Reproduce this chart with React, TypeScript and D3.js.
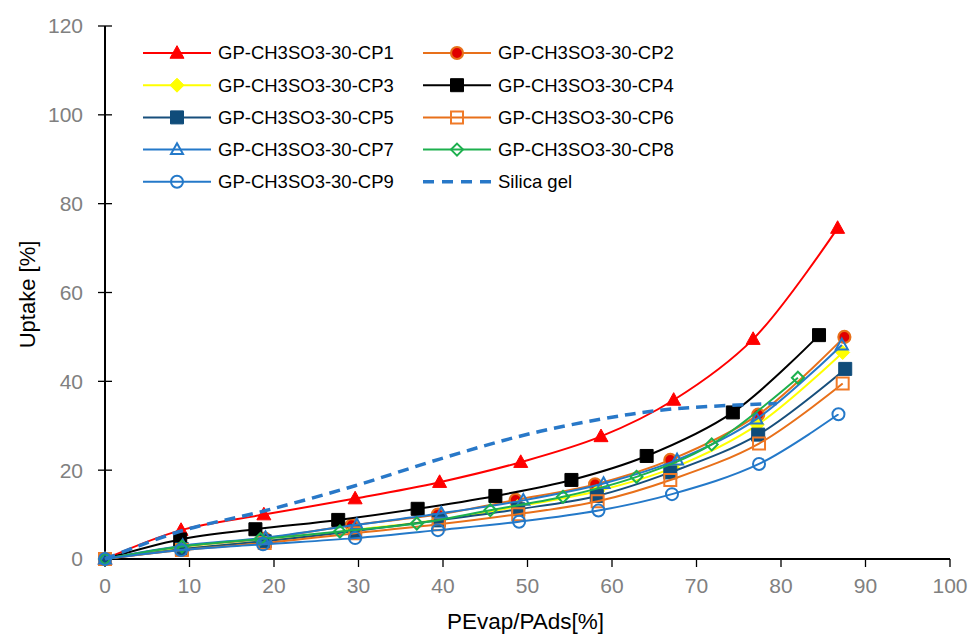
import React from "react";
import * as d3 from "d3";

const xTicks = [0, 10, 20, 30, 40, 50, 60, 70, 80, 90, 100];
const yTicks = [0, 20, 40, 60, 80, 100, 120];

const cp1X = [0, 9, 18.8, 29.6, 39.6, 49.2, 58.7, 67.3, 76.7, 86.7];
const cp1Y = [0, 6.5, 10.0, 13.6, 17.3, 21.8, 27.6, 35.8, 49.5, 74.5];
const cp2X = [0, 9.1, 18.9, 29.2, 39.4, 48.6, 58.0, 66.9, 77.3, 87.5];
const cp2Y = [0, 2.8, 4.6, 7.6, 10.0, 13.3, 16.8, 22.3, 32.5, 50.0];
const cp3X = [0, 9.1, 18.9, 29.4, 39.4, 48.8, 58.3, 67.2, 77.2, 87.3];
const cp3Y = [0, 2.3, 4.0, 6.5, 8.8, 11.8, 15.3, 20.5, 30.2, 46.5];
const cp4X = [0, 8.9, 17.8, 27.6, 37.0, 46.2, 55.2, 64.1, 74.3, 84.5];
const cp4Y = [0, 4.4, 6.7, 8.8, 11.3, 14.2, 17.8, 23.2, 33.0, 50.4];
const cp5X = [0, 9.1, 18.9, 29.6, 39.5, 48.9, 58.2, 66.9, 77.3, 87.6];
const cp5Y = [0, 2.2, 4.0, 6.3, 8.7, 11.2, 14.2, 19.5, 28.0, 42.8];
const cp6X = [0, 9.1, 18.9, 29.6, 39.5, 48.9, 58.3, 66.9, 77.4, 87.3];
const cp6Y = [0, 2.0, 3.6, 5.8, 7.8, 10.1, 13.0, 17.8, 26.0, 39.5];
const cp7X = [0, 9.2, 19.0, 29.8, 39.8, 49.5, 59.0, 67.7, 77.1, 87.2];
const cp7Y = [0, 3.0, 4.8, 7.7, 10.3, 13.2, 17.0, 22.3, 31.5, 48.2];
const cp8X = [0, 9.1, 18.4, 27.8, 36.9, 45.6, 54.2, 62.9, 71.8, 82.0];
const cp8Y = [0, 2.8, 4.5, 6.2, 8.0, 11.0, 14.0, 18.5, 25.8, 40.8];
const cp9X = [0, 9.0, 18.7, 29.6, 39.4, 49.0, 58.4, 67.1, 77.4, 86.8];
const cp9Y = [0, 2.0, 3.3, 4.7, 6.5, 8.4, 10.9, 14.6, 21.4, 32.6];
const silicaX = [0, 9, 18.8, 29.6, 39.6, 49.2, 58.7, 67.3, 79.5];
const silicaY = [0, 6.3, 10.8, 16.5, 22.5, 27.7, 31.5, 33.8, 35.0];

type Marker = "triUp" | "circle" | "diamond" | "square" | "none";
interface Series {
  name: string;
  xs: number[];
  ys: number[];
  line: string;
  marker: Marker;
  fill: string;
  stroke: string;
  dash?: string;
  width: number;
}

const series: Series[] = [
  { name: "GP-CH3SO3-30-CP1", xs: cp1X, ys: cp1Y, line: "#FF0000", marker: "triUp", fill: "#FF0000", stroke: "#FF0000", width: 2 },
  { name: "GP-CH3SO3-30-CP2", xs: cp2X, ys: cp2Y, line: "#E8701A", marker: "circle", fill: "#E00000", stroke: "#E8701A", width: 2 },
  { name: "GP-CH3SO3-30-CP3", xs: cp3X, ys: cp3Y, line: "#FFFF00", marker: "diamond", fill: "#FFFF00", stroke: "#FFFF00", width: 2 },
  { name: "GP-CH3SO3-30-CP4", xs: cp4X, ys: cp4Y, line: "#000000", marker: "square", fill: "#000000", stroke: "#000000", width: 2 },
  { name: "GP-CH3SO3-30-CP5", xs: cp5X, ys: cp5Y, line: "#174F7C", marker: "square", fill: "#0F4C7A", stroke: "#0F4C7A", width: 2 },
  { name: "GP-CH3SO3-30-CP6", xs: cp6X, ys: cp6Y, line: "#E8701A", marker: "square", fill: "none", stroke: "#F07A28", width: 2 },
  { name: "GP-CH3SO3-30-CP7", xs: cp7X, ys: cp7Y, line: "#2479C9", marker: "triUp", fill: "none", stroke: "#2479C9", width: 2 },
  { name: "GP-CH3SO3-30-CP8", xs: cp8X, ys: cp8Y, line: "#1DB04E", marker: "diamond", fill: "none", stroke: "#1DB04E", width: 2 },
  { name: "GP-CH3SO3-30-CP9", xs: cp9X, ys: cp9Y, line: "#2479C9", marker: "circle", fill: "none", stroke: "#2479C9", width: 2 },
  { name: "Silica gel", xs: silicaX, ys: silicaY, line: "#2878C8", marker: "none", fill: "none", stroke: "none", dash: "11 7", width: 3.5 },
];

const W = 969;
const H = 635;
const left = 105;
const right = 950;
const top = 26;
const bottom = 559;

function markerPath(m: Marker, open: boolean): string {
  const s = open ? 6 : 7;
  switch (m) {
    case "triUp":
      return `M0,${-s * 1.05}L${s},${s * 0.75}L${-s},${s * 0.75}Z`;
    case "diamond":
      return `M0,${-s}L${s},0L0,${s}L${-s},0Z`;
    case "square":
      return open
        ? `M${-s},${-s}H${s}V${s}H${-s}Z`
        : `M${-6.5},${-6.5}H6.5V6.5H-6.5Z`;
    default:
      return "";
  }
}

function MarkerShape({ s, x, y }: { s: Series; x: number; y: number }) {
  if (s.marker === "none") return null;
  const open = s.fill === "none";
  if (s.marker === "circle") {
    return (
      <circle cx={x} cy={y} r={6} fill={s.fill} stroke={s.stroke} strokeWidth={open ? 2 : 2.2} />
    );
  }
  return (
    <path
      d={markerPath(s.marker, open)}
      transform={`translate(${x},${y})`}
      fill={s.fill}
      stroke={s.stroke}
      strokeWidth={open ? 2 : 1}
      strokeLinejoin="miter"
    />
  );
}

export default function App() {
  const xScale = d3.scaleLinear().domain([0, 100]).range([left, right]);
  const yScale = d3.scaleLinear().domain([0, 120]).range([bottom, top]);
  const lineGen = d3
    .line<[number, number]>()
    .x((d) => xScale(d[0]))
    .y((d) => yScale(d[1]))
    .curve(d3.curveCatmullRom.alpha(0.5));

  const font = "'Liberation Sans', Arial, sans-serif";
  const legCols = [143, 423];
  const legRow0 = 53;
  const legDy = 32.2;

  return (
    <svg width={W} height={H} style={{ position: "absolute", left: 0, top: 0, background: "#fff" }} fontFamily={font}>
      <rect x={0} y={0} width={W} height={H} fill="#fff" />
      <line x1={left} x2={left} y1={top} y2={bottom} stroke="#000" strokeWidth={2} />
      <line x1={left} x2={right} y1={bottom} y2={bottom} stroke="#000" strokeWidth={2} />
      {yTicks.map((t) => (
        <g key={"y" + t}>
          <line x1={left - 7} x2={left + 7} y1={yScale(t)} y2={yScale(t)} stroke="#000" strokeWidth={1.3} />
          <text x={left - 22} y={yScale(t)} dy="0.35em" textAnchor="end" fontSize={21} fill="#808080">
            {t}
          </text>
        </g>
      ))}
      {xTicks.map((t) => (
        <g key={"x" + t}>
          <line x1={xScale(t)} x2={xScale(t)} y1={bottom} y2={bottom + 8} stroke="#000" strokeWidth={1.3} />
          <text x={xScale(t)} y={bottom + 27} dy="0.35em" textAnchor="middle" fontSize={21} fill="#808080">
            {t}
          </text>
        </g>
      ))}
      <text x={(left + right) / 2 - 2} y={621} dy="0.35em" textAnchor="middle" fontSize={22.5} fill="#000">
        PEvap/PAds[%]
      </text>
      <text
        transform={`translate(27,${(top + bottom) / 2 + 2}) rotate(-90)`}
        dy="0.35em"
        textAnchor="middle"
        fontSize={22}
        fill="#000"
      >
        Uptake [%]
      </text>

      {series.map((s) => {
        const pts: [number, number][] = s.xs.map((x, i) => [x, s.ys[i]]);
        return (
          <g key={s.name}>
            <path
              d={lineGen(pts) || ""}
              fill="none"
              stroke={s.line}
              strokeWidth={s.width}
              strokeDasharray={s.dash}
            />
            {pts.map((p, i) => (
              <MarkerShape key={i} s={s} x={xScale(p[0])} y={yScale(p[1])} />
            ))}
          </g>
        );
      })}

      {series.map((s, i) => {
        const col = i % 2;
        const row = Math.floor(i / 2);
        const x0 = legCols[col];
        const y0 = legRow0 + row * legDy;
        return (
          <g key={"leg" + i}>
            <line
              x1={x0}
              x2={x0 + 68}
              y1={y0}
              y2={y0}
              stroke={s.line}
              strokeWidth={s.dash ? 3.5 : 2}
              strokeDasharray={s.dash ? "11 8" : undefined}
            />
            <MarkerShape s={s} x={x0 + 34} y={y0} />
            <text x={x0 + 75} y={y0} dy="0.35em" fontSize={18.5} fill="#000">
              {s.name}
            </text>
          </g>
        );
      })}
    </svg>
  );
}
